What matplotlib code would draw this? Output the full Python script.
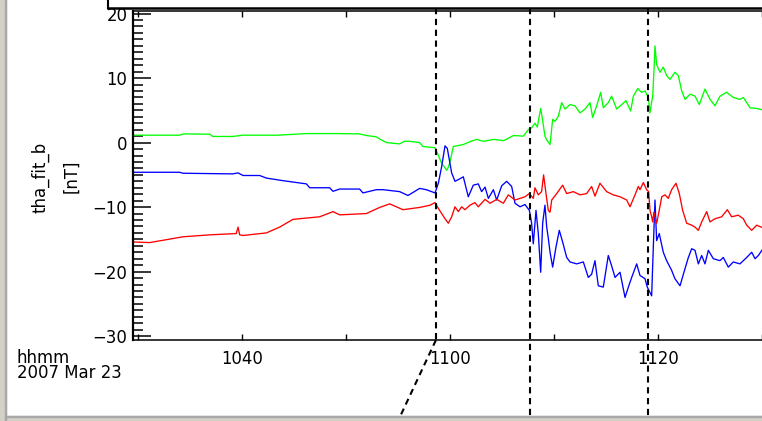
import matplotlib
matplotlib.use("Agg")
import matplotlib.pyplot as plt
import matplotlib.transforms as mtransforms
from matplotlib.lines import Line2D
from matplotlib.patches import Rectangle
from matplotlib.ticker import MultipleLocator, FixedLocator

# ---- data: time in minutes after 10:00 UT, 2007 Mar 23; field in nT ----
green_t = [29.52, 34.0, 34.4, 36.9, 37.2, 39.1, 40.1, 43.5, 46.2, 49.0, 51.3, 51.95,
           52.9, 53.3, 53.9, 55.16, 55.6, 56.12, 57.08, 57.4, 58.56, 59.2, 59.68, 59.85,
           60.0, 60.32, 61.28, 62.0, 62.56, 63.2, 64.2, 65.17, 66.1, 67.05, 67.53, 67.85,
           68.17, 68.4, 68.49, 68.72, 68.9, 69.13, 69.35, 69.62, 69.87, 70.1, 70.42, 70.74,
           71.06, 71.54, 72.02, 72.5, 72.98, 73.46, 73.72, 74.1, 74.49, 74.74, 75.22, 75.54,
           76.03, 76.51, 76.92, 77.37, 77.63, 78.05, 78.27, 78.43, 78.75, 78.91, 79.07, 79.23,
           79.33, 79.49, 79.62, 79.71, 79.87, 80.19, 80.51, 80.83, 81.15, 81.63, 81.95, 82.28,
           82.6, 83.08, 83.56, 83.97, 84.52, 85.0, 85.48, 85.96, 86.6, 87.24, 87.88, 88.2,
           88.85, 89.49, 90.2]
green_v = [1.15, 1.15, 1.35, 1.3, 0.95, 0.95, 1.15, 1.15, 1.4, 1.4, 1.35, 1.1,
           0.9, 0.5, 0.0, -0.2, 0.2, 0.2, 0.0, -0.6, -0.8, -3.2, -4.3, -3.8,
           -3.0, -0.6, -0.3, 0.2, 0.5, 0.2, 0.5, 0.3, 1.1, 1.0, 2.0, 2.3,
           3.0, 2.4, 3.3, 5.3, 3.5, 1.0, 0.3, -0.3, 3.6, 3.3, 4.1, 6.2,
           5.2, 5.9, 5.7, 4.6, 5.2, 6.2, 3.9, 5.7, 7.8, 5.4, 6.2, 7.2,
           5.2, 5.9, 6.5, 4.9, 7.2, 8.4, 8.0, 7.8, 8.0, 7.5, 7.0, 4.6,
           5.7, 7.2, 11.4, 15.0, 12.1, 10.9, 11.7, 10.4, 9.8, 10.9, 10.4, 8.0,
           6.7, 7.5, 7.2, 5.9, 8.3, 6.7, 5.7, 7.2, 7.8, 7.0, 6.7, 7.0,
           5.4, 5.3, 5.0]

blue_t = [29.52, 34.0, 34.33, 39.1, 39.62, 40.1, 41.7, 42.34, 43.94, 46.19, 46.51, 48.43,
          48.75, 49.39, 51.31, 51.63, 52.92, 53.56, 55.16, 55.96, 57.08, 57.72, 58.56, 58.88,
          59.2, 59.52, 59.74, 59.94, 60.16, 60.48, 60.96, 61.28, 61.76, 62.24, 62.72, 63.04,
          63.37, 63.69, 64.17, 64.49, 64.97, 65.45, 65.93, 66.25, 66.73, 67.21, 67.63, 67.85,
          68.01, 68.27, 68.49, 68.72, 68.91, 69.13, 69.3, 69.45, 69.62, 69.87, 70.19, 70.51,
          70.83, 71.22, 71.54, 72.18, 72.82, 73.3, 73.62, 73.94, 74.26, 74.74, 75.22, 75.54,
          75.87, 76.35, 76.83, 77.15, 77.47, 77.95, 78.27, 78.75, 78.97, 79.39, 79.55, 79.71,
          79.87, 80.12, 80.51, 80.83, 81.31, 81.63, 82.12, 82.44, 82.92, 83.24, 83.56, 83.88,
          84.2, 84.52, 84.84, 85.32, 85.96, 86.28, 86.76, 87.24, 87.88, 88.53, 89.01, 89.33,
          89.65, 90.2]
blue_v = [-4.6, -4.6, -4.75, -4.85, -4.7, -5.1, -5.1, -5.5, -5.9, -6.4, -7.0, -7.0,
          -7.55, -7.2, -7.2, -7.8, -7.3, -7.3, -7.6, -8.2, -7.1, -7.3, -7.8, -6.3,
          -3.7, -0.5, -0.9, -2.7, -4.7, -6.0, -5.6, -5.3, -8.4, -6.6, -6.4, -7.6,
          -6.9, -8.65, -7.3, -8.9, -6.7, -6.0, -6.8, -9.4, -9.95, -9.6, -10.5, -12.5,
          -15.7, -10.5, -14.1, -20.1, -12.5, -9.7, -13.1, -14.8, -17.0, -19.3, -16.2, -13.6,
          -15.4, -17.8, -18.5, -18.8, -18.5, -20.9, -20.4, -18.3, -22.2, -22.4, -17.5, -19.1,
          -20.9, -20.1, -24.0, -22.4, -20.9, -18.8, -20.6, -21.1, -22.4, -23.75, -16.2, -8.9,
          -15.2, -14.1, -17.0, -18.3, -19.8, -21.1, -22.2, -20.4, -17.8, -16.45, -16.7, -18.8,
          -17.5, -18.8, -16.7, -18.0, -18.3, -17.8, -19.3, -18.5, -18.8, -17.8, -17.0, -18.0,
          -17.5, -16.2]

red_t = [29.52, 31.12, 34.33, 36.89, 39.45, 39.62, 39.78, 40.1, 42.34, 43.62, 44.9, 47.47,
         48.75, 49.39, 51.95, 53.24, 54.2, 55.48, 57.08, 58.08, 58.56, 58.88, 59.52, 59.84,
         60.16, 60.48, 60.8, 61.12, 61.44, 61.92, 62.4, 62.72, 63.37, 63.85, 64.49, 65.13,
         65.61, 66.25, 66.73, 67.21, 67.63, 68.01, 68.17, 68.49, 68.81, 69.0, 69.23, 69.45,
         69.62, 69.78, 70.26, 70.83, 71.22, 71.86, 72.5, 73.14, 73.62, 73.94, 74.42, 75.06,
         75.7, 76.35, 76.99, 77.31, 77.79, 78.11, 78.27, 78.59, 78.91, 79.1, 79.23, 79.39,
         79.49, 79.6, 79.71, 79.87, 80.12, 80.36, 80.67, 80.99, 81.31, 81.73, 82.05, 82.37,
         82.76, 83.24, 83.56, 83.88, 84.2, 84.68, 85.0, 85.48, 86.12, 86.67, 87.08, 87.72,
         88.2, 88.53, 89.01, 89.49, 90.2]
red_v = [-15.4, -15.5, -14.6, -14.3, -14.1, -13.1, -14.3, -14.4, -14.0, -13.1, -11.9, -11.5,
         -10.7, -11.2, -11.0, -10.05, -9.5, -10.4, -10.05, -9.7, -9.3, -10.2, -11.8, -12.5,
         -11.5, -9.95, -10.7, -9.95, -10.4, -9.7, -9.3, -9.95, -8.8, -9.4, -8.8, -9.4,
         -8.1, -8.9, -8.65, -8.4, -7.9, -8.65, -7.0, -8.1, -7.6, -5.0, -7.9, -10.5,
         -10.8, -8.9, -7.9, -6.6, -7.9, -7.6, -8.1, -7.9, -6.8, -8.3, -6.3, -7.6,
         -8.1, -8.4, -8.9, -9.95, -8.1, -6.8, -7.3, -6.2, -7.3, -7.6, -10.5, -11.5,
         -12.3, -10.8, -11.5, -12.5, -10.5, -8.4, -8.1, -8.65, -7.3, -6.3, -7.9, -10.5,
         -12.5, -12.8, -13.1, -13.6, -12.3, -10.7, -12.3, -11.8, -11.5, -10.4, -11.5, -11.25,
         -11.8, -12.8, -13.6, -12.8, -13.3]

event_times = [58.65, 67.69, 79.04]
tick_times = [30, 40, 50, 60, 70, 80, 90]
tick_labels = ["", "1040", "", "1100", "", "1120", ""]
y_ticks = [-30, -20, -10, 0, 10, 20]

# ---- figure ----
W, H = 762, 421
fig = plt.figure(figsize=(W / 100, H / 100), dpi=100)
fig.patch.set_facecolor("white")
plt.rcParams["font.family"] = ["DejaVu Sans"]
FS = 11.9

ax_l, ax_r, ax_t, ax_b = 133, 765, 11, 340
ax = fig.add_axes([ax_l / W, (H - ax_b) / H, (ax_r - ax_l) / W, (ax_b - ax_t) / H])
ax.set_xlim(29.52, 30 + (ax_r - 138) / 10.4)
ax.set_ylim(-30.6, 20.4)

ax.plot(green_t, green_v, color="#00ff00", lw=0.95)
ax.plot(blue_t, blue_v, color="#0000ff", lw=0.95)
ax.plot(red_t, red_v, color="#ff0000", lw=0.95)

ax.xaxis.set_major_locator(FixedLocator(tick_times))
ax.set_xticklabels(tick_labels)
ax.set_yticks(y_ticks)
ax.set_yticklabels([str(v).replace("-", "\u2212") for v in y_ticks])
ax.yaxis.set_minor_locator(MultipleLocator(1))
ax.tick_params(axis="x", which="major", direction="in", top=True, bottom=True,
               length=4, width=1.0, labelsize=FS, pad=7)
ax.tick_params(axis="y", which="major", direction="in", left=True, right=False,
               length=13, width=1.1, labelsize=FS, pad=4)
ax.tick_params(axis="y", which="minor", direction="in", left=True, right=False,
               length=7, width=1.1)
ax.spines["right"].set_visible(False)
ax.spines["left"].set_linewidth(1.6)
ax.spines["bottom"].set_linewidth(1.1)
ax.spines["top"].set_linewidth(1.1)

# dashed event lines (extend above and below the axes)
trans = mtransforms.blended_transform_factory(ax.transData, ax.transAxes)
top_frac = (ax_b - 8) / (ax_b - ax_t)
bot_frac = (ax_b - H) / (ax_b - ax_t)
dash = dict(color="black", lw=1.5, linestyle=(0, (3.0, 2.2)), clip_on=False, transform=trans)
ax.plot([event_times[0], event_times[0]], [top_frac, 0.0], **dash)
ax.plot([event_times[0], 55.0], [0.0, bot_frac], **dash)
for et in event_times[1:]:
    ax.plot([et, et], [top_frac, bot_frac], **dash)

# labels
fig.text(40 / W, 1 - 177 / H, "tha_fit_b", rotation=90, ha="center", va="center", fontsize=FS)
fig.text(71 / W, 1 - 176 / H, "[nT]", rotation=90, ha="center", va="center", fontsize=FS)
fig.text(17 / W, 1 - 378 / H, "hhmm\n2007 Mar 23", ha="left", va="baseline",
         fontsize=FS, linespacing=0.82, multialignment="left")

# panel box above (previous panel edge) and window frame
fig.add_artist(Line2D([108 / W, 108 / W], [1.0, 1 - 8 / H], color="black", lw=1.5,
                      transform=fig.transFigure))
fig.add_artist(Line2D([108 / W, 1.0], [1 - 8 / H, 1 - 8 / H], color="black", lw=1.8,
                      transform=fig.transFigure))
fig.add_artist(Rectangle((0, 0), 6 / W, 1, color="#d4d0c8", transform=fig.transFigure, zorder=5))
fig.add_artist(Rectangle((5 / W, 0), 1 / W, 1, color="#a8a8a8", transform=fig.transFigure, zorder=6))
fig.add_artist(Rectangle((0, 0), 1, 5 / H, color="#d4d0c8", transform=fig.transFigure, zorder=5))
fig.add_artist(Rectangle((5 / W, 4 / H), 1, 1 / H, color="#a8a8a8", transform=fig.transFigure, zorder=6))

fig.savefig("out.png", dpi=100)
